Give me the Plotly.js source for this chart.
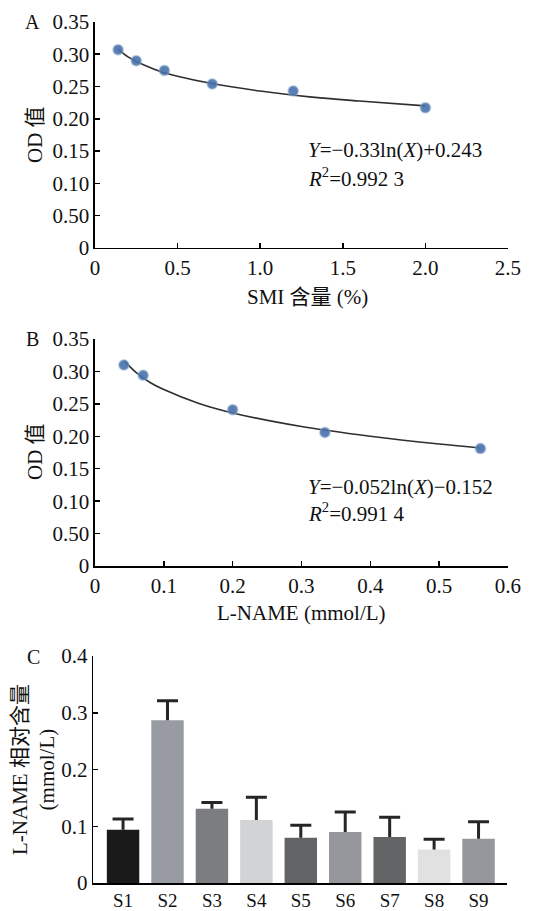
<!DOCTYPE html>
<html>
<head>
<meta charset="utf-8">
<script src="https://cdn.plot.ly/plotly-3.0.1.min.js"></script>
<style>html,body{margin:0;padding:0;background:#fff;}#chart{width:534px;height:911px;}</style>
</head>
<body>
<div id="chart"></div>
<script>
// Panel A: SMI content vs OD
const smiX = [0.14, 0.25, 0.42, 0.71, 1.2, 2.0];
const smiOD = [0.307, 0.290, 0.275, 0.254, 0.243, 0.217];
const fitAX = [0.14, 0.2, 0.3, 0.4, 0.5, 0.7, 1.0, 1.3, 1.6, 2.0];
const fitAY = [0.308, 0.296, 0.283, 0.273, 0.266, 0.255, 0.243, 0.234, 0.2275, 0.220];
// Panel B: L-NAME vs OD
const lnX = [0.042, 0.07, 0.2, 0.334, 0.56];
const lnOD = [0.310, 0.294, 0.241, 0.206, 0.181];
const fitBX = [0.042, 0.06, 0.08, 0.1, 0.15, 0.2, 0.3, 0.4, 0.5, 0.56];
const fitBY = [0.317, 0.298, 0.283, 0.272, 0.251, 0.236, 0.215, 0.200, 0.188, 0.182];
// Panel C: relative L-NAME content
const samples = ["S1","S2","S3","S4","S5","S6","S7","S8","S9"];
const meanC = [0.094, 0.287, 0.131, 0.111, 0.080, 0.090, 0.081, 0.059, 0.078];
const errC = [0.019, 0.034, 0.011, 0.040, 0.022, 0.035, 0.035, 0.018, 0.030];
const barColors = ["#1a1a1a","#989ba2","#7c7d80","#d2d3d5","#636466","#95979c","#636466","#e1e1e1","#95979c"];
// tick labels
const odTickVals = [0, 0.05, 0.10, 0.15, 0.20, 0.25, 0.30, 0.35];
const odTickText = ["0", "0.50", "0.10", "0.15", "0.20", "0.25", "0.30", "0.35"];
const smiTickVals = [0, 0.5, 1.0, 1.5, 2.0, 2.5];
const smiTickText = ["0", "0.5", "1.0", "1.5", "2.0", "2.5"];
const lnTickVals = [0, 0.1, 0.2, 0.3, 0.4, 0.5, 0.6];
const lnTickText = ["0", "0.1", "0.2", "0.3", "0.4", "0.5", "0.6"];
const cTickVals = [0, 0.1, 0.2, 0.3, 0.4];
const cTickText = ["0", "0.1", "0.2", "0.3", "0.4"];

const FONT = "'Liberation Serif', 'Times New Roman', 'Noto Sans CJK SC', serif";
const markerStyle = {color: "rgba(72,112,168,0.9)", size: 10, line: {color: "rgba(140,170,210,0.45)", width: 2}};

const traces = [
  {x: fitAX, y: fitAY, mode: "lines", line: {color: "#2f2f2f", width: 1.6, shape: "spline"}, xaxis: "x", yaxis: "y", hoverinfo: "skip"},
  {x: smiX, y: smiOD, mode: "markers", marker: markerStyle, xaxis: "x", yaxis: "y"},
  {x: fitBX, y: fitBY, mode: "lines", line: {color: "#2f2f2f", width: 1.6, shape: "spline"}, xaxis: "x2", yaxis: "y2", hoverinfo: "skip"},
  {x: lnX, y: lnOD, mode: "markers", marker: markerStyle, xaxis: "x2", yaxis: "y2"},
  {x: samples, y: meanC, type: "bar", width: 0.73, marker: {color: barColors, line: {width: 0}}, xaxis: "x3", yaxis: "y3"},
  {x: samples, y: meanC.map((m, i) => m + errC[i]), mode: "markers",
   marker: {symbol: "line-ew-open", size: 15, color: "#262626", line: {color: "#262626", width: 3}},
   error_y: {type: "data", symmetric: false, array: errC.map(() => 0), arrayminus: errC, width: 0, thickness: 3, color: "#262626"},
   xaxis: "x3", yaxis: "y3"}
];

const axisBase = {
  showline: true, linecolor: "#000", linewidth: 1.5, ticks: "inside", ticklen: 5, tickwidth: 1.5, tickcolor: "#000",
  showgrid: false, zeroline: false, tickfont: {family: FONT, size: 21, color: "#111"}, fixedrange: true
};

const layout = {
  width: 534, height: 911, margin: {l: 0, r: 0, t: 0, b: 0},
  paper_bgcolor: "#fff", plot_bgcolor: "#fff", showlegend: false,
  font: {family: FONT, color: "#111"},
  xaxis: Object.assign({}, axisBase, {domain: [0.1779, 0.9513], range: [0, 2.5], tickvals: smiTickVals, ticktext: smiTickText, anchor: "y"}),
  yaxis: Object.assign({}, axisBase, {domain: [0.7278, 0.9759], range: [0, 0.35], tickvals: odTickVals, ticktext: odTickText, anchor: "x"}),
  xaxis2: Object.assign({}, axisBase, {domain: [0.1779, 0.9513], range: [0, 0.6], tickvals: lnTickVals, ticktext: lnTickText, anchor: "y2"}),
  yaxis2: Object.assign({}, axisBase, {domain: [0.3787, 0.6279], range: [0, 0.35], tickvals: odTickVals, ticktext: odTickText, anchor: "x2"}),
  xaxis3: Object.assign({}, axisBase, {domain: [0.1747, 0.9494], range: [-0.67, 8.64], ticks: "", anchor: "y3", type: "category", tickfont: {family: FONT, size: 19, color: "#111"}}),
  yaxis3: Object.assign({}, axisBase, {domain: [0.0307, 0.2799], range: [0, 0.4], tickvals: cTickVals, ticktext: cTickText, anchor: "x3"}),
  annotations: [
    {xref: "paper", yref: "paper", x: 32/534, y: 1 - 22/911, text: "A", showarrow: false, font: {family: FONT, size: 20}, xanchor: "center", yanchor: "middle"},
    {xref: "paper", yref: "paper", x: 32/534, y: 1 - 339/911, text: "B", showarrow: false, font: {family: FONT, size: 20}, xanchor: "center", yanchor: "middle"},
    {xref: "paper", yref: "paper", x: 33/534, y: 1 - 657/911, text: "C", showarrow: false, font: {family: FONT, size: 20}, xanchor: "center", yanchor: "middle"},
    {xref: "paper", yref: "paper", x: 35/534, y: 1 - 135/911, text: "OD 值", textangle: -90, showarrow: false, font: {family: FONT, size: 21}, xanchor: "center", yanchor: "middle"},
    {xref: "paper", yref: "paper", x: 35/534, y: 1 - 452/911, text: "OD 值", textangle: -90, showarrow: false, font: {family: FONT, size: 21}, xanchor: "center", yanchor: "middle"},
    {xref: "paper", yref: "paper", x: 307/534, y: 1 - 297/911, text: "SMI 含量 (%)", showarrow: false, font: {family: FONT, size: 21}, xanchor: "center", yanchor: "middle"},
    {xref: "paper", yref: "paper", x: 301/534, y: 1 - 613/911, text: "L-NAME (mmol/L)", showarrow: false, font: {family: FONT, size: 21}, xanchor: "center", yanchor: "middle"},
    {xref: "paper", yref: "paper", x: 33/534, y: 1 - 770/911, text: "L-NAME 相对含量<br>(mmol/L)", textangle: -90, showarrow: false, font: {family: FONT, size: 21}, xanchor: "center", yanchor: "middle"},
    {xref: "paper", yref: "paper", x: 306/534, y: 1 - 150/911, text: "<i>Y</i>=−0.33ln(<i>X</i>)+0.243", showarrow: false, font: {family: FONT, size: 21}, xanchor: "left", yanchor: "middle"},
    {xref: "paper", yref: "paper", x: 306/534, y: 1 - 177/911, text: "<i>R</i><sup>2</sup>=0.992 3", showarrow: false, font: {family: FONT, size: 21}, xanchor: "left", yanchor: "middle"},
    {xref: "paper", yref: "paper", x: 306/534, y: 1 - 487/911, text: "<i>Y</i>=−0.052ln(<i>X</i>)−0.152", showarrow: false, font: {family: FONT, size: 21}, xanchor: "left", yanchor: "middle"},
    {xref: "paper", yref: "paper", x: 306/534, y: 1 - 512/911, text: "<i>R</i><sup>2</sup>=0.991 4", showarrow: false, font: {family: FONT, size: 21}, xanchor: "left", yanchor: "middle"}
  ]
};

Plotly.newPlot("chart", traces, layout, {displayModeBar: false, staticPlot: true});
</script>
</body>
</html>
